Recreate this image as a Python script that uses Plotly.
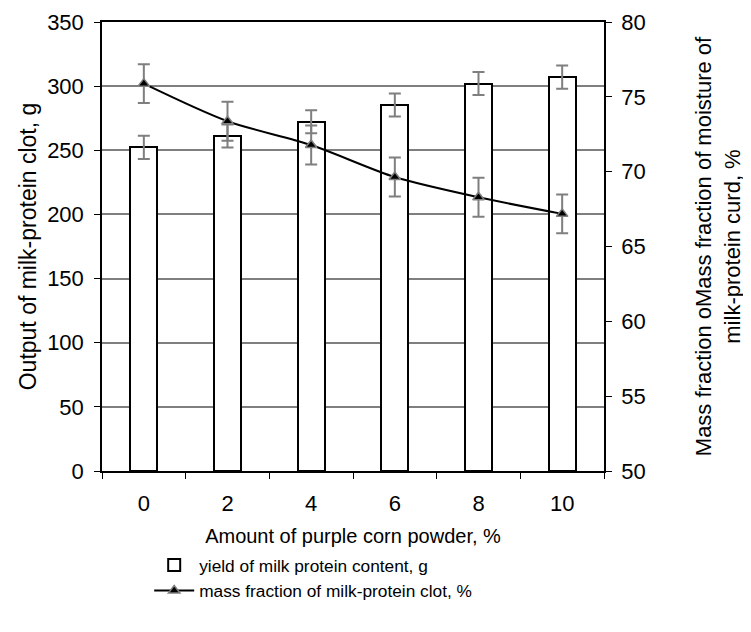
import plotly.graph_objects as go

categories = ["0", "2", "4", "6", "8", "10"]
yield_g = [252.3, 261.1, 272.3, 285.3, 302.0, 307.0]
yield_err = [9, 9, 9, 9, 9, 9]
moisture_pct = [75.88, 73.37, 71.78, 69.64, 68.29, 67.18]
moisture_err = [1.3, 1.3, 1.3, 1.3, 1.3, 1.3]

FONT = "Liberation Sans, Arial, sans-serif"
GREY = "#7f7f7f"
TICKFONT = dict(family=FONT, size=22, color="black")
XTITLEFONT = dict(family=FONT, size=20, color="black")
YTITLEFONT = dict(family=FONT, size=23, color="black")
Y2TITLEFONT = dict(family=FONT, size=22, color="black")

fig = go.Figure()
fig.add_trace(go.Bar(
    x=categories, y=yield_g, name="yield of milk protein content, g",
    width=0.32,
    marker=dict(color="white", line=dict(color="black", width=2)),
    error_y=dict(type="data", array=yield_err, color=GREY, thickness=2, width=6),
    yaxis="y",
))
fig.add_trace(go.Scatter(
    x=categories, y=moisture_pct, name="mass fraction of milk-protein clot, %",
    mode="lines+markers",
    line=dict(color="black", width=2, shape="spline", smoothing=0.8),
    marker=dict(symbol="triangle-up", size=10, color="black", line=dict(color=GREY, width=1.5)),
    error_y=dict(type="data", array=moisture_err, color=GREY, thickness=2, width=6),
    yaxis="y2",
))

fig.update_layout(
    width=743, height=624,
    margin=dict(l=94, r=147, t=14, b=161),
    paper_bgcolor="white", plot_bgcolor="white",
    font=dict(family=FONT, size=20, color="black"),
    showlegend=True,
    legend=dict(x=0.094, y=-0.17, xanchor="left", yanchor="top",
                font=dict(family=FONT, size=17.3, color="black"), bgcolor="rgba(0,0,0,0)",
                tracegroupgap=0, itemwidth=40),
    xaxis=dict(
        type="category", automargin=False,
        title=dict(text="Amount of purple corn powder, %", font=XTITLEFONT, standoff=14),
        tickfont=TICKFONT, ticklabelstandoff=12,
        showline=True, linecolor="black", linewidth=1.5, mirror=True,
        ticks="outside", tickson="boundaries", ticklen=6, tickcolor="black",
        showgrid=False,
    ),
    yaxis=dict(
        automargin=False,
        title=dict(text="Output of milk-protein clot, g", font=YTITLEFONT, standoff=4),
        tickfont=TICKFONT, ticklabelstandoff=6,
        range=[0, 350], dtick=50,
        showline=True, linecolor="black", linewidth=1.5,
        ticks="outside", ticklen=6, tickcolor="black",
        showgrid=True, gridcolor=GREY, gridwidth=1.5,
        zeroline=False,
    ),
    yaxis2=dict(
        automargin=False,
        title=dict(text="Mass fraction oMass fraction of moisture of<br>milk-protein curd, %", font=Y2TITLEFONT, standoff=51),
        tickfont=TICKFONT, ticklabelstandoff=5,
        range=[50, 80], dtick=5,
        overlaying="y", side="right",
        showline=True, linecolor="black", linewidth=1.5,
        ticks="outside", ticklen=6, tickcolor="black",
        showgrid=False, zeroline=False,
    ),
    bargap=0,
)

fig.write_html("out.html")
